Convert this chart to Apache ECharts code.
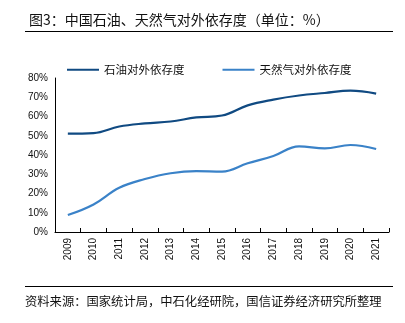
<!DOCTYPE html>
<html>
<head>
<meta charset="utf-8">
<script src="https://cdn.jsdelivr.net/npm/echarts@6/dist/echarts.min.js"></script>
<style>
html,body{margin:0;padding:0;background:#fff;}
#c{width:405px;height:323px;}
</style>
</head>
<body>
<div id="c"></div>
<script>
var years = ['2009','2010','2011','2012','2013','2014','2015','2016','2017','2018','2019','2020','2021'];
var oilDep = [51.1, 51.4, 54.8, 56.4, 57.4, 59.5, 60.5, 65.8, 68.8, 70.9, 72.2, 73.4, 71.9];
var gasDep = [8.8, 14.3, 23.0, 27.5, 30.5, 31.6, 31.4, 35.7, 39.5, 44.5, 43.4, 45.2, 43.1];
var yTicks = [0, 10, 20, 30, 40, 50, 60, 70, 80];
var titleText = '图3：中国石油、天然气对外依存度（单位：%）';
var sourceText = '资料来源：国家统计局，中石化经研院，国信证券经济研究所整理';
var seriesNames = ['石油对外依存度', '天然气对外依存度'];

var cjk = '"Noto Sans CJK SC", sans-serif';
var num = '"Liberation Sans", Arial, sans-serif';
var chart = echarts.init(document.getElementById('c'), null, {renderer: 'canvas'});
chart.setOption({
  animation: false,
  backgroundColor: '#fff',
  title: {
    text: titleText, left: 24, top: 8,
    textStyle: {fontFamily: cjk, fontSize: 14, fontWeight: 'normal', color: '#111'}
  },
  graphic: [
    {type: 'line', shape: {x1: 25, y1: 31.5, x2: 393, y2: 31.5}, style: {stroke: '#000', lineWidth: 1}},
    {type: 'line', shape: {x1: 25, y1: 286.5, x2: 393, y2: 286.5}, style: {stroke: '#000', lineWidth: 1}},
    {type: 'text', left: 25, top: 295, style: {text: sourceText, font: '12.3px "Noto Sans CJK SC"', fill: '#111'}}
  ],
  legend: {
    top: 59, left: 62, itemGap: 38, itemWidth: 32, itemHeight: 2,
    icon: 'rect',
    textStyle: {fontFamily: cjk, fontSize: 11.5, color: '#111'},
    data: seriesNames
  },
  grid: {left: 55, right: 16, top: 78, bottom: 91},
  xAxis: {
    type: 'category', data: years, boundaryGap: true,
    axisLine: {lineStyle: {color: '#000', width: 1}},
    axisTick: {show: true, inside: true, length: 4, lineStyle: {color: '#000'}},
    axisLabel: {rotate: 90, fontFamily: num, fontSize: 10, color: '#111', margin: 6}
  },
  yAxis: {
    type: 'value', min: 0, max: 80, interval: 10,
    axisLine: {show: true, lineStyle: {color: '#000', width: 1}},
    axisTick: {show: false},
    splitLine: {show: false},
    axisLabel: {fontFamily: num, fontSize: 10, color: '#111', margin: 7,
      formatter: function(v){ return yTicks.indexOf(v) >= 0 ? v + '%' : ''; }}
  },
  series: [
    {name: seriesNames[0], type: 'line', data: oilDep, smooth: 0.4, showSymbol: false, symbol: 'none',
     lineStyle: {color: '#104a82', width: 2.2}, itemStyle: {color: '#104a82'}},
    {name: seriesNames[1], type: 'line', data: gasDep, smooth: 0.4, showSymbol: false, symbol: 'none',
     lineStyle: {color: '#3a82c8', width: 2.2}, itemStyle: {color: '#3a82c8'}}
  ]
});
</script>
</body>
</html>
